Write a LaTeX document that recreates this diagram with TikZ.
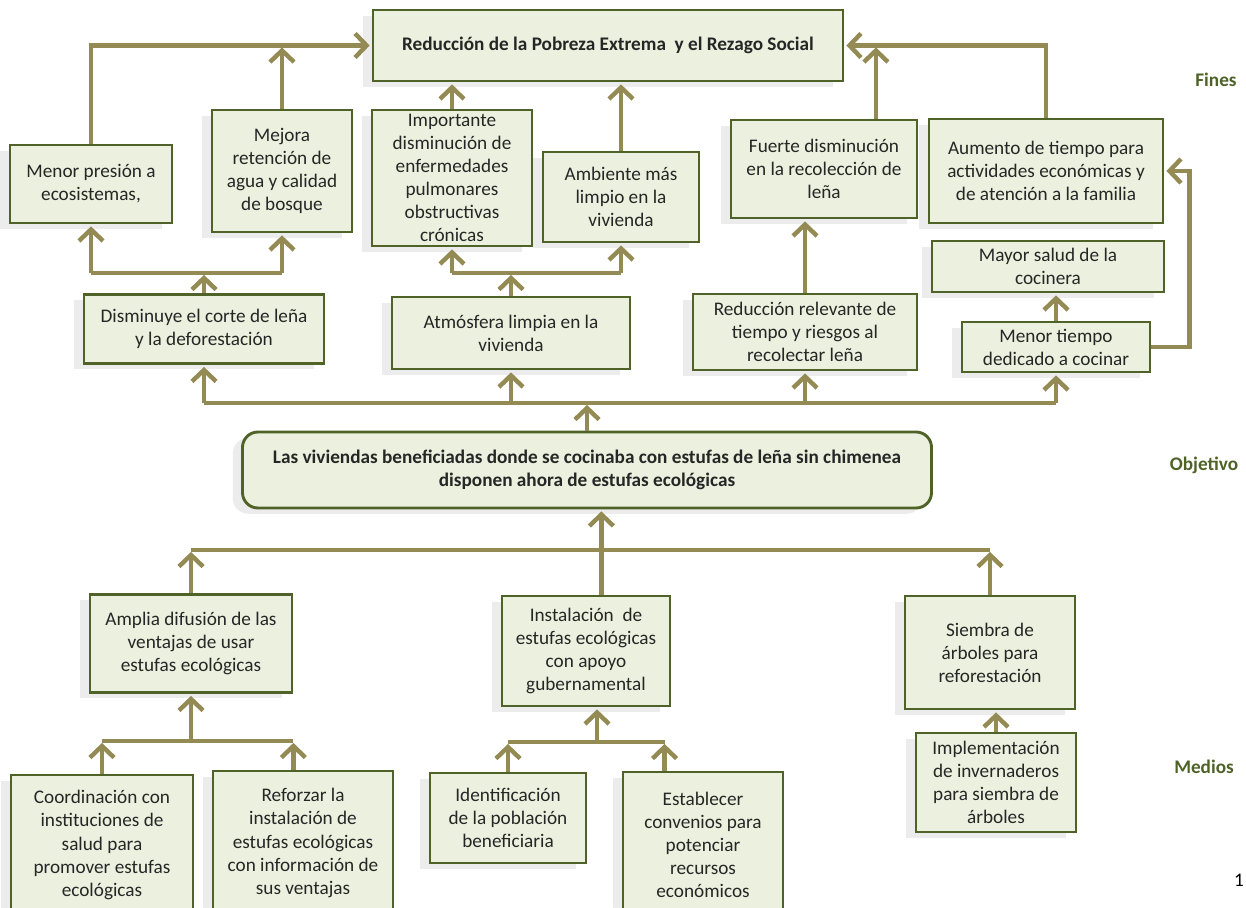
\documentclass[tikz,border=0pt]{standalone}
\usepackage{fontspec}
\setmainfont{Carlito}
\usetikzlibrary{arrows.meta,shadows,positioning}

\definecolor{olivo}{HTML}{948A54}
\definecolor{borde}{HTML}{4F6228}
\definecolor{relleno}{HTML}{EBF1DE}

\begin{document}
\begin{tikzpicture}[x=0.52pt, y=-0.52pt, semithick,
  caja/.style={draw=borde, fill=relleno, line width=1.5pt, align=center, inner sep=1pt,
    text=black!85, font=\fontsize{10}{12}\selectfont,
    drop shadow={shadow xshift=-5pt, shadow yshift=-3pt, opacity=0.1, fill=black!70}},
  sz/.style 2 args={minimum width=#1*0.52pt, minimum height=#2*0.52pt},
  negrita/.style={font=\bfseries\fontsize{10}{12}\selectfont},
  post/.style={-{Straight Barb[length=6pt,width=12.5pt]}, draw=olivo, line width=2.3pt, shorten >=1pt},
  tramo/.style={draw=olivo, line width=2.3pt},
  nivel/.style={font=\bfseries\fontsize{10}{12}\selectfont, text=borde}]

  \fill [white] (0,0) rectangle (1246,907);
  \useasboundingbox (0,0) rectangle (1246,907);

  % fines
  \node [caja, negrita, sz={470}{71}] (fin) at (608,45.5) {Reducción de la Pobreza Extrema~ y el Rezago Social};

  \node [caja, sz={162}{78}] (presion) at (91,184) {Menor presión a\\ecosistemas,};
  \node [caja, sz={140}{122}] (agua) at (282,171) {Mejora\\retención de\\agua y calidad\\de bosque};
  \node [caja, sz={160}{136}, inner sep=0pt] (salud) at (452,178) {Importante\\disminución de\\enfermedades\\pulmonares\\obstructivas\\crónicas};
  \node [caja, sz={156}{90}] (ambiente) at (621,197) {Ambiente más\\limpio en la\\vivienda};
  \node [caja, sz={186}{98}] (fuerte) at (824,169) {Fuerte disminución\\en la recolección de\\leña};
  \node [caja, sz={234}{104}] (aumento) at (1046,171) {Aumento de tiempo para\\actividades económicas y\\de atención a la familia};
  \node [caja, sz={232}{51}] (cocinera) at (1048,266.5) {Mayor salud de la\\cocinera};

  \node [caja, sz={240}{69}] (corte) at (204,329) {Disminuye el corte de leña\\y la deforestación};
  \node [caja, sz={238}{72}] (atmosfera) at (511,333) {Atmósfera limpia en la\\vivienda};
  \node [caja, sz={224}{76}] (riesgos) at (805,332) {Reducción relevante de\\tiempo y riesgos al\\recolectar leña};
  \node [caja, sz={188}{50}] (cocinar) at (1056,347) {Menor tiempo\\dedicado a cocinar};

  % objetivo
  \node [caja, negrita, rounded corners=8pt, sz={689}{76}] (objetivo) at (587,470)
    {Las viviendas beneficiadas donde se cocinaba con estufas de leña sin chimenea\\disponen ahora de estufas ecológicas};

  % medios
  \node [caja, sz={202}{98}] (difusion) at (191,643.5) {Amplia difusión de las\\ventajas de usar\\estufas ecológicas};
  \node [caja, sz={168}{110}] (instalacion) at (586,651) {Instalación~ de\\estufas ecológicas\\con apoyo\\gubernamental};
  \node [caja, sz={170}{113}] (siembra) at (990,652.5) {Siembra de\\árboles para\\reforestación};
  \node [caja, sz={160}{99}] (invernadero) at (996,782.5) {Implementación\\de invernaderos\\para siembra de\\árboles};

  \node [caja, sz={182}{140}] (coordinacion) at (102,845) {Coordinación con\\instituciones de\\salud para\\promover estufas\\ecológicas};
  \node [caja, sz={180}{144}] (reforzar) at (303,843) {Reforzar la\\instalación de\\estufas ecológicas\\con información de\\sus ventajas};
  \node [caja, sz={156}{90}] (poblacion) at (508,818) {Identificación\\de la población\\beneficiaria};
  \node [caja, sz={160}{146}] (convenios) at (703,845) {Establecer\\convenios para\\potenciar\\recursos\\económicos};

  \node [nivel] (fines) at (1216,80) {Fines};
  \node [nivel] (obj) at (1204,465) {Objetivo};
  \node [nivel] (medios) at (1204,767) {Medios};
  \node [inner sep=0pt, font=\fontsize{10}{12}\selectfont] (pagina) at (1239,880) {1};

  \coordinate (rama1) at (204,273);
  \coordinate (rama2) at (511,273);
  \coordinate (rama3) at (587,403);
  \coordinate (rama4) at (602,550);
  \coordinate (rama5) at (191,741);
  \coordinate (rama6) at (597,742);

  % hacia el fin
  \draw [post] (presion.north) |- (fin.west);
  \draw [post] (agua.north) -- (agua.north |- fin.west);
  \draw [post] (salud.north) -- (salud.north |- fin.south);
  \draw [post] (ambiente.north) -- (ambiente.north |- fin.south);
  \draw [post] ([xshift=27pt]fuerte.north) -- ([xshift=27pt]fuerte.north |- fin.east);
  \draw [post] (aumento.north) |- (fin.east);
  \draw [post] (riesgos.north) -- (riesgos.north |- fuerte.south);
  \draw [post] (cocinar.north) -- (cocinar.north |- cocinera.south);
  \draw [post] (cocinar.east) -- ++(38,0) |- (aumento.east);

  \draw [tramo] (presion.south |- rama1) -- (agua.south |- rama1);
  \draw [post] (corte.north) -- (rama1);
  \draw [post] (presion.south |- rama1) -- (presion.south);
  \draw [post] (agua.south |- rama1) -- (agua.south);

  \draw [tramo] (salud.south |- rama2) -- (ambiente.south |- rama2);
  \draw [post] (atmosfera.north) -- (rama2);
  \draw [post] (salud.south |- rama2) -- (salud.south);
  \draw [post] (ambiente.south |- rama2) -- (ambiente.south);

  % desde el objetivo
  \draw [tramo] (corte.south |- rama3) -- (cocinar.south |- rama3);
  \draw [post] (objetivo.north) -- (rama3);
  \draw [post] (corte.south |- rama3) -- (corte.south);
  \draw [post] (atmosfera.south |- rama3) -- (atmosfera.south);
  \draw [post] (riesgos.south |- rama3) -- (riesgos.south);
  \draw [post] (cocinar.south |- rama3) -- (cocinar.south);

  % medios
  \draw [post] ([xshift=8pt]instalacion.north) -- ([xshift=8pt]instalacion.north |- objetivo.south);
  \draw [tramo] (difusion.north |- rama4) -- (siembra.north |- rama4);
  \draw [post] (difusion.north) -- (difusion.north |- rama4);
  \draw [post] (siembra.north) -- (siembra.north |- rama4);

  \draw [tramo] (coordinacion.north |- rama5) -- ([xshift=-5pt]reforzar.north |- rama5);
  \draw [post] (rama5) -- (difusion.south);
  \draw [post] (coordinacion.north) -- (coordinacion.north |- rama5);
  \draw [post] ([xshift=-5pt]reforzar.north) -- ([xshift=-5pt]reforzar.north |- rama5);

  \draw [tramo] (poblacion.north |- rama6) -- ([xshift=-20pt]convenios.north |- rama6);
  \draw [post] (rama6) -- (rama6 |- instalacion.south);
  \draw [post] (poblacion.north) -- (poblacion.north |- rama6);
  \draw [post] ([xshift=-20pt]convenios.north) -- ([xshift=-20pt]convenios.north |- rama6);

  \draw [post] (invernadero.north) -- (invernadero.north |- siembra.south);

\end{tikzpicture}
\end{document}
